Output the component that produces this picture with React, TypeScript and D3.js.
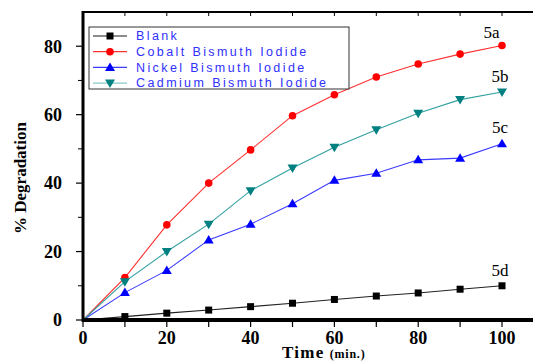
import React from "react";
import * as d3 from "d3";

const times = [0, 10, 20, 30, 40, 50, 60, 70, 80, 90, 100];
const blank = [0, 1, 2, 2.9, 3.9, 4.9, 6.0, 7.0, 7.9, 9.0, 10.0];
const cobalt = [0, 12.4, 27.8, 40, 49.7, 59.7, 65.8, 71, 74.8, 77.7, 80.2];
const nickel = [0, 8, 14.5, 23.4, 28, 34, 40.8, 42.9, 46.8, 47.3, 51.5];
const cadmium = [0, 11.2, 20, 28, 37.8, 44.4, 50.5, 55.6, 60.4, 64.4, 66.6];

const seriesNames = ["Blank", "Cobalt Bismuth Iodide", "Nickel Bismuth Iodide", "Cadmium Bismuth Iodide"];
const xTicks = [0, 20, 40, 60, 80, 100];
const yTicks = [0, 20, 40, 60, 80];
const annotations = [
  { text: "5a", x: 97.5, y: 82.5 },
  { text: "5b", x: 99.5, y: 69.5 },
  { text: "5c", x: 99.5, y: 54.5 },
  { text: "5d", x: 99.5, y: 13 },
];

type Series = {
  name: string;
  values: number[];
  line: string;
  legendLine: string;
  marker: string;
  shape: "square" | "circle" | "up" | "down";
};

const series: Series[] = [
  { name: seriesNames[0], values: blank, line: "#222", legendLine: "#666", marker: "#000", shape: "square" },
  { name: seriesNames[1], values: cobalt, line: "#ff3030", legendLine: "#ff3030", marker: "#ff0000", shape: "circle" },
  { name: seriesNames[2], values: nickel, line: "#3a3aff", legendLine: "#3a3aff", marker: "#0000ff", shape: "up" },
  { name: seriesNames[3], values: cadmium, line: "#33a0a0", legendLine: "#88c8c8", marker: "#008080", shape: "down" },
];

function Marker({ shape, x, y, color }: { shape: string; x: number; y: number; color: string }) {
  if (shape === "square") return <rect x={x - 3.5} y={y - 3.5} width={7} height={7} fill={color} />;
  if (shape === "circle") return <circle cx={x} cy={y} r={3.8} fill={color} />;
  if (shape === "up")
    return <path d={`M${x},${y - 5} L${x + 5},${y + 3.5} L${x - 5},${y + 3.5} Z`} fill={color} />;
  return <path d={`M${x},${y + 5} L${x + 5},${y - 3.5} L${x - 5},${y - 3.5} Z`} fill={color} />;
}

const serifStyle = { fontFamily: "'Liberation Serif', 'Times New Roman', serif" };
const sansStyle = { fontFamily: "'Liberation Sans', Arial, sans-serif" };

export default function App() {
  const W = 533;
  const H = 362;
  const x = d3.scaleLinear().domain([0, 100]).range([83, 502]);
  const y = d3.scaleLinear().domain([0, 90]).range([320, 12]);
  const line = d3
    .line<number>()
    .x((_, i) => x(times[i]))
    .y((v) => y(v));

  const minorX = d3.range(0, 101, 10);
  const minorY = d3.range(10, 90, 20);

  const lgX = 89;
  const lgY = 27;
  const rowY = (i: number) => lgY + 9 + i * 15.7;

  return (
    <svg width={W} height={H} style={{ position: "absolute", left: 0, top: 0, background: "#fff" }}>
      {/* frame top */}
      <line x1={x(0)} x2={W} y1={y(90)} y2={y(90)} stroke="#000" strokeWidth={2} />
      {minorX.map((t) => (
        <line key={"tt" + t} x1={x(t)} x2={x(t)} y1={y(90)} y2={y(90) + 4} stroke="#000" strokeWidth={1} />
      ))}
      {/* series */}
      {series.map((s) => (
        <g key={s.name}>
          <path d={line(s.values) || ""} fill="none" stroke={s.line} strokeWidth={1.1} />
          {s.values.map((v, i) =>
            i === 0 ? null : <Marker key={i} shape={s.shape} x={x(times[i])} y={y(v)} color={s.marker} />
          )}
        </g>
      ))}
      {/* axes */}
      <line x1={x(0)} x2={x(0)} y1={y(90) - 1} y2={y(0) + 2} stroke="#000" strokeWidth={3} />
      <line x1={x(0) - 1} x2={W} y1={y(0)} y2={y(0)} stroke="#000" strokeWidth={4} />
      {yTicks.map((t) => (
        <g key={"y" + t}>
          <line x1={x(0) - 7} x2={x(0)} y1={y(t)} y2={y(t)} stroke="#000" strokeWidth={1.2} />
          <text x={62} y={y(t)} dy="0.35em" textAnchor="end" style={serifStyle} fontWeight="bold" fontSize={18}>
            {t}
          </text>
        </g>
      ))}
      {minorY.map((t) => (
        <line key={"ym" + t} x1={x(0) - 5} x2={x(0)} y1={y(t)} y2={y(t)} stroke="#000" strokeWidth={1} />
      ))}
      {minorX.map((t) => (
        <line key={"xm" + t} x1={x(t)} x2={x(t)} y1={y(0)} y2={y(0) + 7} stroke="#000" strokeWidth={1.2} />
      ))}
      {xTicks.map((t) => (
        <text key={"x" + t} x={x(t)} y={343.5} textAnchor="middle" style={serifStyle} fontWeight="bold" fontSize={18}>
          {t}
        </text>
      ))}
      {/* axis titles */}
      <text x={282} y={357.5} style={serifStyle} fontWeight="bold" fontSize={17} letterSpacing={1.3}>
        Time
        <tspan dx={5} fontSize={12} letterSpacing={0.8}>(min.)</tspan>
      </text>
      <text
        transform={`translate(26,${178}) rotate(-90)`}
        textAnchor="middle"
        style={serifStyle}
        fontWeight="bold"
        fontSize={17}
      >
        % Degradation
      </text>
      {/* annotations */}
      {annotations.map((a) => (
        <text key={a.text} x={x(a.x)} y={y(a.y)} textAnchor="middle" style={serifStyle} fontSize={17}>
          {a.text}
        </text>
      ))}
      {/* legend */}
      <rect x={lgX} y={lgY} width={260} height={62} fill="#fff" stroke="#333" strokeWidth={1} />
      {series.map((s, i) => (
        <g key={"lg" + i}>
          <line x1={93} x2={127} y1={rowY(i)} y2={rowY(i)} stroke={s.legendLine} strokeWidth={1.3} />
          <Marker shape={s.shape} x={110} y={rowY(i)} color={s.marker} />
          <text
            x={136}
            y={rowY(i)}
            dy="0.35em"
            style={sansStyle}
            fontSize={12.5}
            letterSpacing={2.4}
            fill="#3030ff"
          >
            {s.name}
          </text>
        </g>
      ))}
    </svg>
  );
}
